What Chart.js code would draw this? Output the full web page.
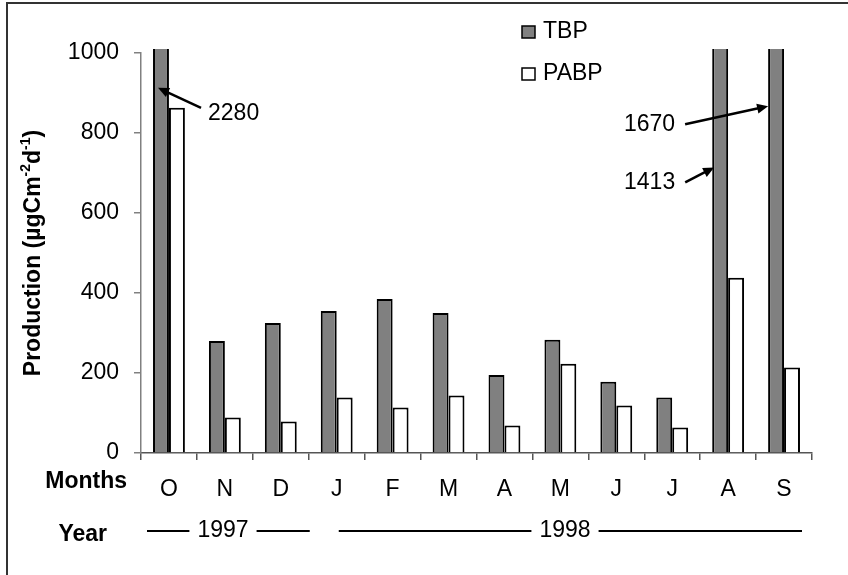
<!DOCTYPE html>
<html>
<head>
<meta charset="utf-8">
<script src="https://cdn.jsdelivr.net/npm/chart.js@4.4.1/dist/chart.umd.min.js"></script>
<style>
  html, body { margin: 0; padding: 0; background: #fff; }
  #wrap { width: 848px; height: 575px; position: relative; }
</style>
</head>
<body>
<div id="wrap"><canvas id="chart" width="848" height="575"></canvas></div>
<script>
// Dati
const months = ['O', 'N', 'D', 'J', 'F', 'M', 'A', 'M', 'J', 'J', 'A', 'S'];
const tbp = [2280, 280, 325, 355, 385, 350, 195, 283, 178, 139, 1413, 1670];
const pabp = [863, 89, 79, 139, 114, 144, 69, 223, 119, 64, 438, 214];
const yTicks = [0, 200, 400, 600, 800, 1000];
const years = ['1997', '1998'];
const yearFrom = [0, 3];
const yearTo = [2, 11];
// Frecce con i valori fuori scala
const callouts = [
  { label: '2280', index: 0, value: 913, edge: 5, dx: 43, dy: 20, side: 'right' },
  { label: '1670', index: 11, value: 867, edge: 0, dx: -83, dy: 18, side: 'left' },
  { label: '1413', index: 10, value: 714, edge: 2, dx: -29, dy: 15, side: 'left' }
];

const FONT = '"Liberation Sans", Arial, sans-serif';

// Disegna una freccia piena
function arrow(ctx, x1, y1, x2, y2) {
  const a = Math.atan2(y2 - y1, x2 - x1);
  const len = 11, hw = 5;
  ctx.beginPath();
  ctx.moveTo(x1, y1);
  ctx.lineTo(x2 - Math.cos(a) * len * 0.8, y2 - Math.sin(a) * len * 0.8);
  ctx.stroke();
  ctx.beginPath();
  ctx.moveTo(x2, y2);
  ctx.lineTo(x2 - Math.cos(a) * len + Math.sin(a) * hw, y2 - Math.sin(a) * len - Math.cos(a) * hw);
  ctx.lineTo(x2 - Math.cos(a) * len - Math.sin(a) * hw, y2 - Math.sin(a) * len + Math.cos(a) * hw);
  ctx.closePath();
  ctx.fill();
}

const extras = {
  id: 'extras',
  afterDraw(chart) {
    const { ctx, scales } = chart;
    const x = scales.x, y = scales.y;
    ctx.save();

    // Cornice
    ctx.strokeStyle = '#333';
    ctx.lineWidth = 2;
    ctx.beginPath();
    ctx.moveTo(7, 575);
    ctx.lineTo(7, 3);
    ctx.lineTo(848, 3);
    ctx.stroke();

    // Titolo asse y con apici
    ctx.save();
    ctx.translate(34, 253);
    ctx.rotate(-Math.PI / 2);
    const parts = [
      ['Production (\u00b5gCm', 23, 0],
      ['-2', 14, -8],
      ['d', 23, 0],
      ['-1', 14, -8],
      [')', 23, 0]
    ];
    let total = 0;
    parts.forEach(p => { ctx.font = 'bold ' + p[1] + 'px ' + FONT; total += ctx.measureText(p[0]).width; });
    let cx = -total / 2;
    ctx.fillStyle = '#000';
    ctx.textBaseline = 'middle';
    ctx.textAlign = 'left';
    parts.forEach(p => {
      ctx.font = 'bold ' + p[1] + 'px ' + FONT;
      ctx.fillText(p[0], cx, p[2]);
      cx += ctx.measureText(p[0]).width;
    });
    ctx.restore();

    // Etichette "Months" e "Year"
    ctx.font = 'bold 23px ' + FONT;
    ctx.textAlign = 'right';
    ctx.textBaseline = 'middle';
    ctx.fillText('Months', 127, 482);
    ctx.fillText('Year', 107, 535);

    // Anni con linee
    const half = (x.getPixelForValue(1) - x.getPixelForValue(0)) / 2;
    const padL = [6, 30], padR = [-1, 10];
    ctx.font = '23px ' + FONT;
    ctx.textAlign = 'center';
    ctx.lineWidth = 2;
    ctx.strokeStyle = '#000';
    years.forEach((yr, i) => {
      const left = x.getPixelForValue(yearFrom[i]) - half + padL[i];
      const right = x.getPixelForValue(yearTo[i]) + half - padR[i];
      const mid = i === 0 ? 223 : 565;
      const w = ctx.measureText(yr).width / 2 + 8;
      ctx.fillText(yr, mid, 531);
      ctx.beginPath();
      ctx.moveTo(left, 531); ctx.lineTo(mid - w, 531);
      ctx.moveTo(mid + w, 531); ctx.lineTo(right, 531);
      ctx.stroke();
    });

    // Legenda
    const legend = [['TBP', '#808080', 32], ['PABP', '#ffffff', 74]];
    legend.forEach(l => {
      ctx.fillStyle = l[1];
      ctx.fillRect(522, l[2] - 6, 13, 12);
      ctx.strokeStyle = '#000';
      ctx.lineWidth = 1.5;
      ctx.strokeRect(522, l[2] - 6, 13, 12);
      ctx.fillStyle = '#000';
      ctx.textAlign = 'left';
      ctx.fillText(l[0], 543, l[2]);
    });

    // Frecce e valori fuori scala
    const meta = chart.getDatasetMeta(0);
    ctx.lineWidth = 2.5;
    ctx.strokeStyle = '#000';
    ctx.fillStyle = '#000';
    callouts.forEach(c => {
      const bar = meta.data[c.index];
      const tx = bar.x - bar.width / 2 + c.edge;
      const ty = y.getPixelForValue(c.value);
      const sx = tx + c.dx, sy = ty + c.dy;
      arrow(ctx, sx, sy, tx, ty);
      if (c.side === 'right') {
        ctx.textAlign = 'left';
        ctx.fillText(c.label, sx + 7, sy + 6);
      } else {
        ctx.textAlign = 'right';
        ctx.fillText(c.label, sx - 10, sy);
      }
    });
    ctx.restore();
  }
};

new Chart(document.getElementById('chart'), {
  type: 'bar',
  data: {
    labels: months,
    datasets: [
      {
        label: 'TBP',
        data: tbp,
        backgroundColor: '#808080',
        borderColor: '#000',
        borderWidth: 2,
        categoryPercentage: 0.57,
        barPercentage: 1,
        clip: { left: 0, right: 0, top: 4, bottom: 0 }
      },
      {
        label: 'PABP',
        data: pabp,
        backgroundColor: '#ffffff',
        borderColor: '#000',
        borderWidth: 2,
        categoryPercentage: 0.57,
        barPercentage: 1,
        clip: { left: 0, right: 0, top: 4, bottom: 0 }
      }
    ]
  },
  options: {
    responsive: false,
    animation: false,
    layout: { padding: { left: 0, right: 36, top: 53, bottom: 0 } },
    plugins: {
      legend: { display: false },
      tooltip: { enabled: false }
    },
    scales: {
      x: {
        grid: {
          drawOnChartArea: false,
          drawTicks: true,
          tickLength: 7,
          color: '#555',
          lineWidth: 1.5
        },
        border: { display: true, color: '#555', width: 1.5 },
        ticks: {
          color: '#000',
          padding: 16,
          font: { family: FONT, size: 23 }
        },
        afterFit(scale) { scale.height = 122; }
      },
      y: {
        min: 0,
        max: 1000,
        afterBuildTicks(scale) { scale.ticks = yTicks.map(v => ({ value: v })); },
        grid: {
          drawOnChartArea: false,
          drawTicks: true,
          tickLength: 7,
          color: '#808080',
          lineWidth: 1.5
        },
        border: { display: true, color: '#808080', width: 1.5 },
        ticks: {
          color: '#000',
          padding: 15,
          font: { family: FONT, size: 23 },
          callback: v => String(v)
        },
        afterFit(scale) { scale.width = 141; }
      }
    }
  },
  plugins: [extras]
});
</script>
</body>
</html>
